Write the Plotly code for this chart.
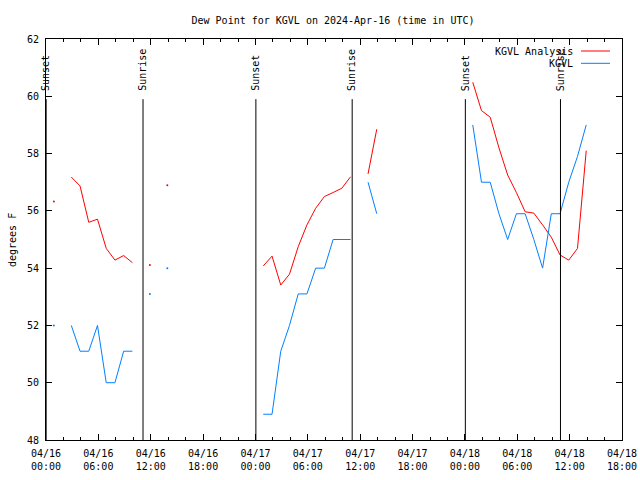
import plotly.graph_objects as go
from datetime import datetime, timedelta

# ---- data ----
start = datetime(2024, 4, 16, 0, 54)
n_hours = 62
times = [(start + timedelta(hours=i)).strftime("%Y-%m-%d %H:%M") for i in range(n_hours)]

N = None
analysis = [56.33, N, 57.18, 56.87, 55.60, 55.71, 54.69, 54.28, 54.44, 54.19,
            N, 54.11, N, 56.89, N, N, N, N, N, N,
            N, N, N, N, 54.08, 54.42, 53.41, 53.79, 54.75, 55.51,
            56.09, 56.50, 56.64, 56.79, 57.19, N, 57.29, 58.85, N, N,
            N, N, N, N, N, N, N, N, 60.49, 59.50,
            59.27, 58.20, 57.25, 56.64, 55.97, 55.92, 55.51, 55.08, 54.46, 54.28,
            54.69, 58.10]
observed = [52.0, N, 52.0, 51.1, 51.1, 52.0, 50.0, 50.0, 51.1, 51.1,
            N, 53.1, N, 54.0, N, N, N, N, N, N,
            N, N, N, N, 48.9, 48.9, 51.1, 52.0, 53.1, 53.1,
            54.0, 54.0, 55.0, 55.0, 55.0, N, 57.0, 55.9, N, N,
            N, N, N, N, N, N, N, N, 59.0, 57.0,
            57.0, 55.9, 55.0, 55.9, 55.9, 55.0, 54.0, 55.9, 55.9, 57.0,
            57.9, 59.0]

sun_events = ["2024-04-16 00:01", "2024-04-16 11:07", "2024-04-17 00:03",
              "2024-04-17 11:05", "2024-04-18 00:03", "2024-04-18 10:57"]
sun_labels = ["Sunset", "Sunrise", "Sunset", "Sunrise", "Sunset", "Sunrise"]

series_names = ["KGVL Analysis", "KGVL"]
series_colors = ["#ff0000", "#0080ff"]

FONT = "DejaVu Sans Mono"
W, H = 640, 480
L, R, T, B = 46, 18, 39, 40
PW, PH = W - L - R, H - T - B


def px_to_paper(px, py):
    return (px - L) / PW, (H - B - py) / PH


def isolated(vals):
    out = []
    for i, v in enumerate(vals):
        prev_v = vals[i - 1] if i > 0 else None
        next_v = vals[i + 1] if i < len(vals) - 1 else None
        out.append(v if (v is not None and prev_v is None and next_v is None) else None)
    return out


fig = go.Figure()
for vals, name, col in zip([analysis, observed], series_names, series_colors):
    fig.add_trace(go.Scatter(x=times, y=vals, mode="lines", name=name,
                             line=dict(color=col, width=1), connectgaps=False,
                             showlegend=False))
    fig.add_trace(go.Scatter(x=times, y=isolated(vals), mode="markers",
                             marker=dict(color=col, size=2), showlegend=False,
                             hoverinfo="skip"))

# sunrise / sunset lines
for t, lab in zip(sun_events, sun_labels):
    fig.add_shape(type="line", x0=t, x1=t, y0=48, y1=59.9, xref="x", yref="y",
                  line=dict(color="black", width=1))
    fig.add_annotation(x=t, y=60.12, xref="x", yref="y", text=lab, textangle=-90,
                       showarrow=False, xanchor="center", yanchor="bottom",
                       font=dict(family=FONT, size=10, color="black"))

# legend (gnuplot style: text then sample)
for k, (name, col) in enumerate(zip(series_names, series_colors)):
    py = 51 + 12.3 * k
    tx, ty = px_to_paper(575, py)
    fig.add_annotation(x=tx, y=ty, xref="paper", yref="paper", text=name,
                       showarrow=False, xanchor="right", yanchor="middle",
                       font=dict(family=FONT, size=10, color="black"))
    x0, y0 = px_to_paper(581, py)
    x1, _ = px_to_paper(610, py)
    fig.add_shape(type="line", x0=x0, x1=x1, y0=y0, y1=y0, xref="paper", yref="paper",
                  line=dict(color=col, width=1))

# y axis title
yx, yy = px_to_paper(12, 240)
fig.add_annotation(x=yx, y=yy, xref="paper", yref="paper", text="degrees F",
                   textangle=-90, showarrow=False, xanchor="center", yanchor="middle",
                   font=dict(family=FONT, size=10, color="black"))

fig.update_layout(
    width=W, height=H,
    margin=dict(l=L, r=R, t=T, b=B, autoexpand=False),
    paper_bgcolor="white", plot_bgcolor="white",
    font=dict(family=FONT, size=10, color="black"),
    title=dict(text="Dew Point for KGVL on 2024-Apr-16 (time in UTC)",
               x=333 / W, xanchor="center", y=1 - 20 / H, yanchor="middle",
               font=dict(family=FONT, size=10, color="black")),
    showlegend=False,
)
fig.update_xaxes(
    type="date", range=["2024-04-16 00:00", "2024-04-18 18:00"],
    tick0="2024-04-16 00:00", dtick=6 * 3600 * 1000,
    tickformat="%m/%d<br>%H:%M",
    ticks="inside", ticklen=6, tickcolor="black",
    showline=True, linecolor="black", linewidth=1, mirror="ticks",
    showgrid=False, zeroline=False, automargin=False, ticklabelstandoff=4,
    minor=dict(dtick=2 * 3600 * 1000, ticks="inside", ticklen=3, tickcolor="black", showgrid=False),
)
fig.update_yaxes(
    range=[48, 62], dtick=2, tick0=48,
    ticks="inside", ticklen=6, tickcolor="black",
    showline=True, linecolor="black", linewidth=1, mirror="ticks",
    showgrid=False, zeroline=False, ticklabelstandoff=4, automargin=False,
)

fig.write_html("out.html",
               config={"displayModeBar": False},
               post_script="document.body.style.margin='0';document.body.style.overflow='hidden';")
